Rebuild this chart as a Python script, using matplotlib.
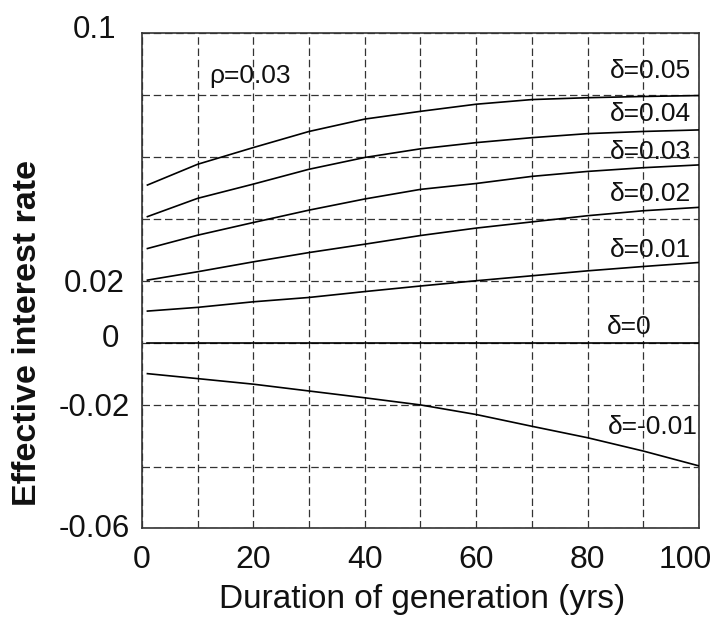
import matplotlib
matplotlib.use("Agg")
import matplotlib.pyplot as plt
from matplotlib.transforms import ScaledTranslation

# Data
x_pts = [1, 10, 20, 30, 40, 50, 60, 70, 80, 90, 100]
d005 = [0.0509, 0.0576, 0.0630, 0.0682, 0.0722, 0.0747, 0.0770, 0.0785, 0.0791, 0.0795, 0.0798]
d004 = [0.0407, 0.0466, 0.0512, 0.0560, 0.0598, 0.0626, 0.0646, 0.0662, 0.0675, 0.0682, 0.0687]
d003 = [0.0304, 0.0347, 0.0388, 0.0428, 0.0464, 0.0495, 0.0514, 0.0537, 0.0553, 0.0565, 0.0574]
d002 = [0.0202, 0.0229, 0.0261, 0.0291, 0.0318, 0.0346, 0.0370, 0.0390, 0.0410, 0.0426, 0.0437]
d001 = [0.0102, 0.0114, 0.0132, 0.0146, 0.0165, 0.0183, 0.0200, 0.0216, 0.0232, 0.0246, 0.0259]
d000 = [0.0, 0.0, 0.0, 0.0, 0.0, 0.0, 0.0, 0.0, 0.0, 0.0, 0.0]
dm001 = [-0.0100, -0.0116, -0.0134, -0.0156, -0.0178, -0.0201, -0.0232, -0.0270, -0.0307, -0.0350, -0.0398]

series = [d005, d004, d003, d002, d001, d000, dm001]
labels = ["δ=0.05", "δ=0.04", "δ=0.03", "δ=0.02", "δ=0.01", "δ=0", "δ=-0.01"]
label_x = [98.5, 98.5, 98.5, 98.5, 98.5, 91.5, 99.8]
label_y = [0.0876, 0.0739, 0.0617, 0.0481, 0.0298, 0.0049, -0.0272]

xticks = [0, 10, 20, 30, 40, 50, 60, 70, 80, 90, 100]
xticklabels = ["0", "", "20", "", "40", "", "60", "", "80", "", "100"]
yticks = [-0.06, -0.04, -0.02, 0, 0.02, 0.04, 0.06, 0.08, 0.1]
yticklabels = ["-0.06", "", "-0.02", "0", "0.02", "", "", "", "0.1"]

plt.rcParams['font.family'] = ['Liberation Sans', 'DejaVu Sans']

fig = plt.figure(figsize=(7.2, 6.2), dpi=100)
ax = fig.add_axes([0.197, 0.1476, 0.774, 0.7992])

for s in series:
    ax.plot(x_pts, s, color='black', lw=1.2, zorder=3)

for lx, ly, lab in zip(label_x, label_y, labels):
    ax.text(lx, ly, lab, ha='right', va='center', fontsize=19, color='#111111', zorder=4)

ax.text(19.4, 0.0862, "ρ=0.03", ha='center', va='center', fontsize=19, color='#111111')

ax.set_xlim(0, 100)
ax.set_ylim(-0.06, 0.1)
ax.set_xticks(xticks)
ax.set_xticklabels(xticklabels)
ax.set_yticks(yticks)
ax.set_yticklabels(yticklabels)
ax.tick_params(axis='both', length=0, colors='#111111')
ax.tick_params(axis='x', pad=12, labelsize=23)
ax.tick_params(axis='y', pad=34, labelsize=22.5)
for lab in ax.get_yticklabels():
    lab.set_horizontalalignment('center')

ax.grid(True, color='#333333', linestyle=(0, (6, 3)), linewidth=0.9)
for sp in ax.spines.values():
    sp.set_color('#333333')
    sp.set_linewidth(1.2)

# small offsets of individual tick labels as in the reference
shifts = {"0.1": (0.0, 0.06), "0": (0.16, 0.07), "-0.06": (0.0, 0.03)}
for lab in ax.get_yticklabels():
    t = lab.get_text()
    if t in shifts:
        dx, dy = shifts[t]
        lab.set_transform(lab.get_transform() + ScaledTranslation(dx, dy, fig.dpi_scale_trans))
for lab in ax.get_xticklabels():
    if lab.get_text() == "100":
        lab.set_transform(lab.get_transform() + ScaledTranslation(-0.14, 0, fig.dpi_scale_trans))

ax.set_xlabel("Duration of generation (yrs)", fontsize=24, color='#111111')
ax.xaxis.set_label_coords(0.503, -0.112)
ax.set_ylabel("Effective interest rate", fontsize=24.5, fontweight='bold', color='#111111')
ax.yaxis.set_label_coords(-0.178, 0.395)

fig.savefig("out.png", dpi=100)
